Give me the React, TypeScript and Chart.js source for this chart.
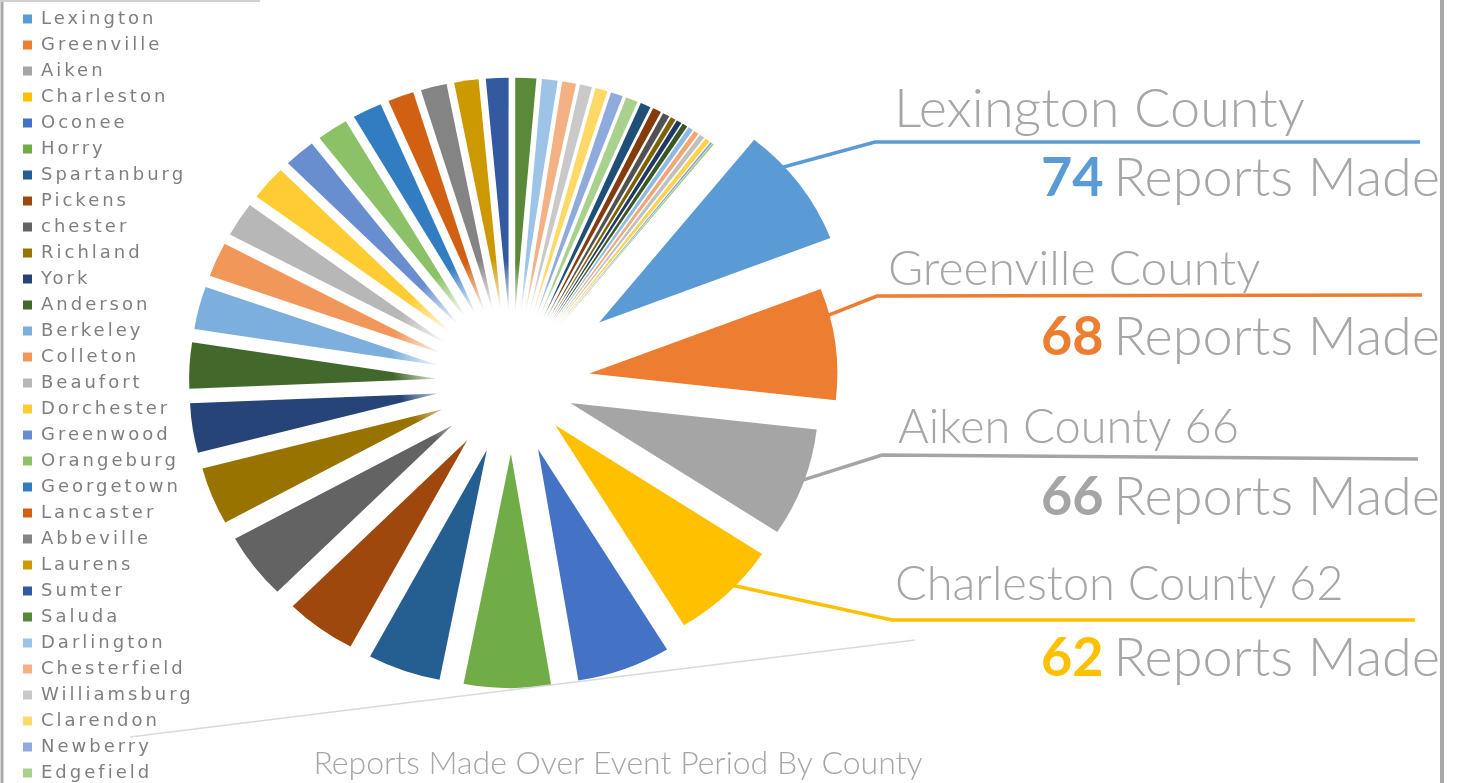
import React, { useEffect, useRef } from 'react';
import { Chart, registerables } from 'chart.js';

Chart.register(...registerables);

// ---------------- data ----------------
const counties = [
  'Lexington', 'Greenville', 'Aiken', 'Charleston', 'Oconee', 'Horry', 'Spartanburg', 'Pickens',
  'chester', 'Richland', 'York', 'Anderson', 'Berkeley', 'Colleton', 'Beaufort', 'Dorchester',
  'Greenwood', 'Orangeburg', 'Georgetown', 'Lancaster', 'Abbeville', 'Laurens', 'Sumter', 'Saluda',
  'Darlington', 'Chesterfield', 'Williamsburg', 'Clarendon', 'Newberry', 'Edgefield',
  'Florence', 'Kershaw', 'Cherokee', 'Union', 'Fairfield', 'Marion', 'Dillon', 'Marlboro',
  'Jasper', 'Barnwell', 'Calhoun', 'Hampton',
];

const reports = [
  74, 68, 66, 62, 54, 50, 42, 41,
  40, 35, 30, 28, 26, 21, 21, 21,
  18, 18, 17, 15, 15, 14, 13, 12,
  9, 8, 7, 7, 7, 7,
  6, 5, 4, 3, 3, 3, 3, 3,
  3, 3, 1, 1,
];

const sliceColors = [
  '#5B9BD5', '#ED7D31', '#A5A5A5', '#FFC000', '#4472C4', '#70AD47',
  '#255E91', '#9E480E', '#636363', '#997300', '#264478', '#43682B',
  '#7CAFDD', '#F1975A', '#B7B7B7', '#FFCD33', '#698ED0', '#8CC168',
  '#327DC2', '#D26012', '#848484', '#CC9A00', '#335AA1', '#5A8A39',
  '#9DC3E6', '#F4B183', '#C9C9C9', '#FFD966', '#8FAADC', '#A9D18E',
  '#1F4E79', '#843C0C', '#525252', '#7F6000', '#203864', '#385723',
  '#8FBAE3', '#F3A774', '#C0C0C0', '#FFD34F', '#7F9FD8', '#9DCA7E',
];

const calloutHeadlines = ['Lexington County', 'Greenville County', 'Aiken County 66', 'Charleston County 62'];
const reportsSuffix = 'Reports Made';
const chartTitle = 'Reports Made Over Event Period By County';
const LEGEND_VISIBLE = 30;

// ---------------- layout / style ----------------
const PAGE_W = 1458;
const PAGE_H = 783;
const CANVAS_H = 810;
const PIE_RADIUS = 248;
const PIE_SQUASH = 0.945;
const EXPLODE = 75;
const EXPLODE_OVERRIDES: Record<number, number> = { 0: 108, 1: 78, 2: 62, 3: 62 };
const TEXT_GRAY = '#A6A6A6';
const LEGEND_SPACING = '3px';
const TITLE_CENTER_X = 618;
const TEXT_RIGHT_X = 1440;
const REPORTS_FONT = 54;

const CALLOUTS = [
  { nudge: -6, elbowX: 875, elbowY: 142, endX: 1420, endY: 142, headX: 894, headY: 127, headSize: 54, repY: 196 },
  { nudge: -7, elbowX: 877, elbowY: 296, endX: 1422, endY: 295, headX: 888, headY: 285, headSize: 48, repY: 355 },
  { nudge: 0, elbowX: 882, elbowY: 455, endX: 1418, endY: 459, headX: 898, headY: 443, headSize: 47, repY: 515 },
  { nudge: -2, elbowX: 892, elbowY: 620, endX: 1415, endY: 620, headX: 895, headY: 600, headSize: 47, repY: 676 },
];

function explodeDistance(i: number) {
  return EXPLODE_OVERRIDES[i] ?? EXPLODE;
}

// legend letter spacing + title placement
const layoutTweaks = {
  id: 'layoutTweaks',
  beforeLayout(chart: any) {
    chart.ctx.letterSpacing = LEGEND_SPACING;
  },
  afterLayout(chart: any) {
    chart.ctx.letterSpacing = '0px';
    const tb = chart.titleBlock;
    if (tb) {
      const w = tb.right - tb.left;
      tb.left = TITLE_CENTER_X - w / 2;
      tb.right = TITLE_CENTER_X + w / 2;
    }
  },
  beforeDraw(chart: any) {
    const lg = chart.legend;
    if (lg && !lg.__spaced) {
      const orig = lg.draw;
      lg.draw = function (...args: any[]) {
        const c = this.ctx;
        const prev = c.letterSpacing;
        c.letterSpacing = LEGEND_SPACING;
        try {
          return orig.apply(this, args);
        } finally {
          c.letterSpacing = prev || '0px';
        }
      };
      lg.__spaced = true;
    }
  },
};

// exploded, slightly tilted slices drawn from the arc elements computed by the pie controller
const explodePlugin = {
  id: 'explode',
  beforeDatasetDraw(chart: any, args: any) {
    const ctx = chart.ctx;
    const meta = args.meta;
    if (!meta.data.length) return false;
    const c0 = meta.data[0].getProps(['x', 'y'], true);
    const cx = c0.x;
    const cy = c0.y;
    ctx.save();
    ctx.translate(cx, cy);
    ctx.scale(1, PIE_SQUASH);
    ctx.translate(-cx, -cy);
    meta.data.forEach((el: any, i: number) => {
      const p = el.getProps(['x', 'y', 'startAngle', 'endAngle', 'outerRadius'], true);
      const mid = (p.startAngle + p.endAngle) / 2;
      const d = explodeDistance(i);
      const ox = p.x + Math.cos(mid) * d;
      const oy = p.y + Math.sin(mid) * d;
      ctx.beginPath();
      ctx.moveTo(ox, oy);
      ctx.arc(ox, oy, p.outerRadius, p.startAngle, p.endAngle);
      ctx.closePath();
      ctx.fillStyle = el.options.backgroundColor;
      ctx.fill();
    });
    ctx.restore();
    // soft white haze at the centre
    ctx.save();
    const hx = cx - 22;
    const hy = cy - 25;
    const g = ctx.createRadialGradient(hx, hy, 0, hx, hy, 98);
    g.addColorStop(0, 'rgba(255,255,255,1)');
    g.addColorStop(0.48, 'rgba(255,255,255,1)');
    g.addColorStop(1, 'rgba(255,255,255,0)');
    ctx.fillStyle = g;
    ctx.beginPath();
    ctx.arc(hx, hy, 98, 0, Math.PI * 2);
    ctx.fill();
    ctx.restore();
    return false;
  },
};

const calloutPlugin = {
  id: 'callouts',
  afterDatasetsDraw(chart: any) {
    const ctx = chart.ctx;
    const meta = chart.getDatasetMeta(0);
    ctx.save();
    ctx.letterSpacing = '0px';
    CALLOUTS.forEach((c, i) => {
      const el = meta.data[i];
      const p = el.getProps(['x', 'y', 'startAngle', 'endAngle', 'outerRadius'], true);
      const mid = (p.startAngle + p.endAngle) / 2;
      const d = explodeDistance(i);
      const a = mid + (c.nudge * Math.PI) / 180;
      const tipX = p.x + Math.cos(mid) * d;
      const tipY = p.y + Math.sin(mid) * d;
      const sx = tipX + Math.cos(a) * (p.outerRadius - 5);
      const syFlat = tipY + Math.sin(a) * (p.outerRadius - 5);
      const sy = p.y + (syFlat - p.y) * PIE_SQUASH;
      ctx.strokeStyle = sliceColors[i];
      ctx.lineWidth = 3.5;
      ctx.lineJoin = 'miter';
      ctx.beginPath();
      ctx.moveTo(sx, sy);
      ctx.lineTo(c.elbowX, c.elbowY);
      ctx.lineTo(c.endX, c.endY);
      ctx.stroke();

      ctx.textBaseline = 'alphabetic';
      ctx.font = `300 ${c.headSize}px Lato`;
      ctx.fillStyle = TEXT_GRAY;
      ctx.textAlign = 'left';
      ctx.fillText(calloutHeadlines[i], c.headX, c.headY);
      ctx.font = `300 ${REPORTS_FONT}px Lato`;
      ctx.textAlign = 'right';
      ctx.fillText(reportsSuffix, TEXT_RIGHT_X, c.repY);
      const w = ctx.measureText(reportsSuffix).width;
      ctx.font = `bold ${REPORTS_FONT}px Lato`;
      ctx.fillStyle = sliceColors[i];
      ctx.fillText(String(reports[i]), TEXT_RIGHT_X - w - 10, c.repY);
    });
    ctx.restore();
  },
};

const framePlugin = {
  id: 'frame',
  afterDraw(chart: any) {
    const ctx = chart.ctx;
    ctx.save();
    ctx.strokeStyle = '#DADADA';
    ctx.lineWidth = 1.5;
    ctx.beginPath();
    ctx.moveTo(130, 737);
    ctx.lineTo(915, 640);
    ctx.stroke();

    ctx.strokeStyle = '#A9A9A9';
    ctx.lineWidth = 3;
    ctx.beginPath();
    ctx.moveTo(2, 0);
    ctx.lineTo(2, PAGE_H);
    ctx.stroke();

    ctx.strokeStyle = '#D0D0D0';
    ctx.lineWidth = 2;
    ctx.beginPath();
    ctx.moveTo(0, 1);
    ctx.lineTo(260, 1);
    ctx.stroke();

    ctx.strokeStyle = '#A8A8A8';
    ctx.lineWidth = 4;
    ctx.beginPath();
    ctx.moveTo(1442, 0);
    ctx.lineTo(1442, PAGE_H);
    ctx.stroke();
    ctx.restore();
  },
};

export default function App() {
  const canvasRef = useRef<HTMLCanvasElement>(null);

  useEffect(() => {
    const canvas = canvasRef.current;
    if (!canvas) return;
    const chart = new Chart(canvas, {
      type: 'pie',
      data: {
        labels: counties,
        datasets: [
          {
            data: reports,
            backgroundColor: sliceColors,
            borderWidth: 0,
            hoverOffset: 0,
          },
        ],
      },
      options: {
        responsive: false,
        animation: false,
        events: [],
        rotation: 38.7,
        radius: PIE_RADIUS,
        layout: { padding: { left: 15, top: 2, right: 634, bottom: 0 } },
        plugins: {
          legend: {
            display: true,
            position: 'left',
            align: 'start',
            maxWidth: 185,
            labels: {
              boxWidth: 9,
              boxHeight: 9,
              padding: 8,
              color: '#7F7F7F',
              font: { family: "'DejaVu Sans', sans-serif", size: 18 },
              filter: (item: any) => item.index < LEGEND_VISIBLE,
            },
          },
          title: {
            display: true,
            text: chartTitle,
            position: 'bottom',
            color: TEXT_GRAY,
            font: { family: 'Lato', size: 32, weight: '300', lineHeight: 1.1 },
            padding: { top: -18, bottom: 29 },
          },
          tooltip: { enabled: false },
        },
      } as any,
      plugins: [layoutTweaks, explodePlugin, calloutPlugin, framePlugin],
    });
    return () => chart.destroy();
  }, []);

  return (
    <div
      style={{
        position: 'fixed',
        left: 0,
        top: 0,
        width: PAGE_W,
        height: PAGE_H,
        overflow: 'hidden',
        background: '#ffffff',
      }}
    >
      <canvas ref={canvasRef} width={PAGE_W} height={CANVAS_H} style={{ display: 'block' }} />
    </div>
  );
}
